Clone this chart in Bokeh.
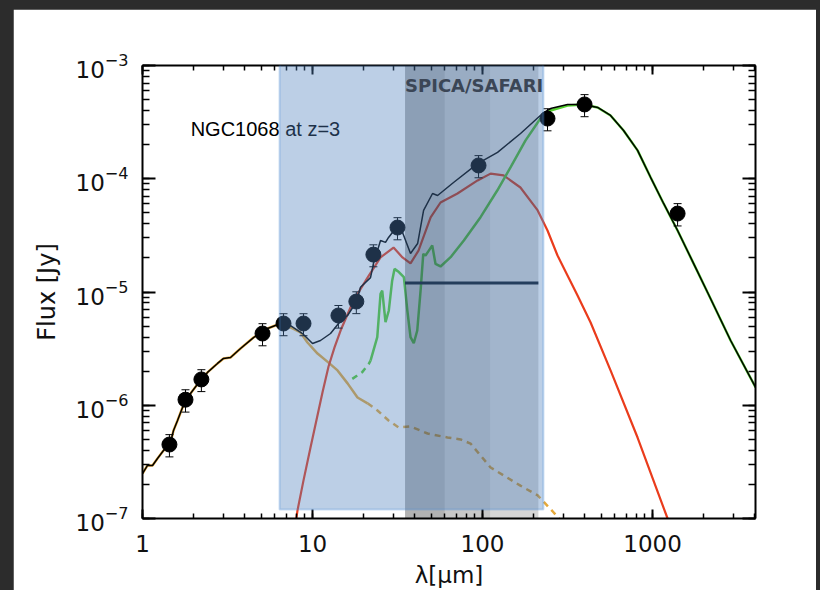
from bokeh.plotting import figure
from bokeh.models import (LogAxis, LogTicker, BoxAnnotation, Label, Whisker,
                          ColumnDataSource, TeeHead, PrintfTickFormatter, LogTickFormatter)
from bokeh.layouts import column
from bokeh.embed import file_html
from bokeh.resources import INLINE

# ---------------- data ----------------
# photometry: wavelength [um], flux [Jy], 1-sigma error [Jy]
phot_wave = [1.44, 1.79, 2.22, 5.08, 6.75, 8.85, 14.2, 18.1, 22.8, 31.6, 94.7, 241, 398, 1403]
phot_flux = [4.5e-7, 1.12e-6, 1.69e-6, 4.30e-6, 5.27e-6, 5.27e-6, 6.2e-6, 8.24e-6,
             2.14e-5, 3.71e-5, 1.31e-4, 3.40e-4, 4.53e-4, 4.93e-5]
phot_err = [1.0e-7, 2.5e-7, 3.7e-7, 9.5e-7, 1.16e-6, 1.16e-6, 1.4e-6, 1.8e-6,
            4.7e-6, 8.2e-6, 2.9e-5, 7.5e-5, 1.0e-4, 1.1e-5]

# total model (black)
total_wave = [1.00, 1.07, 1.145, 1.225, 1.329, 1.461, 1.522, 1.607, 1.719, 1.916, 2.193, 2.412,
              2.762, 2.996, 3.294, 3.772, 4.497, 5.437, 6.483, 7.42, 8.73, 10.0, 11.14, 12.76,
              14.22, 16.07, 18.15, 19.15, 21.93, 22.84, 25.12, 26.87, 28.0, 30.77, 33.84, 37.7,
              41.5, 45.0, 50.8, 54.4, 67.5, 93.5, 122.5, 167.3, 225.3, 251, 316, 393, 475, 566,
              675, 816, 973, 1161, 1403, 1741, 2107, 2877, 4036]
total_flux = [2.49e-7, 2.94e-7, 2.94e-7, 3.39e-7, 3.98e-7, 4.69e-7, 5.98e-7, 7.33e-7, 9.55e-7,
              1.27e-6, 1.66e-6, 1.95e-6, 2.34e-6, 2.59e-6, 2.64e-6, 3.17e-6, 3.96e-6, 4.76e-6,
              5.27e-6, 5.06e-6, 4.30e-6, 3.51e-6, 3.73e-6, 4.30e-6, 5.27e-6, 6.2e-6, 8.24e-6,
              1.10e-5, 1.34e-5, 1.79e-5, 2.85e-5, 2.74e-5, 3.03e-5, 3.64e-5, 3.35e-5, 2.19e-5,
              2.68e-5, 5.25e-5, 7.41e-5, 7.11e-5, 9.27e-5, 1.36e-4, 1.71e-4, 2.51e-4, 3.77e-4,
              4.17e-4, 4.53e-4, 4.53e-4, 4.26e-4, 3.62e-4, 2.67e-4, 1.78e-4, 1.03e-4, 6.05e-5,
              3.49e-5, 1.79e-5, 9.9e-6, 3.73e-6, 1.44e-6]

# stellar component (tan): solid part and extrapolated (dashed) part
star_wave = [1.00, 1.07, 1.145, 1.225, 1.329, 1.461, 1.522, 1.607, 1.719, 1.916, 2.193, 2.412,
             2.762, 2.996, 3.294, 3.772, 4.497, 5.437, 6.483, 7.42, 8.5, 9.34, 10.7, 12.42,
             14.03, 16.07, 18.39, 21.07]
star_flux = [2.49e-7, 2.94e-7, 2.94e-7, 3.39e-7, 3.98e-7, 4.69e-7, 5.98e-7, 7.33e-7, 9.55e-7,
             1.27e-6, 1.66e-6, 1.95e-6, 2.34e-6, 2.59e-6, 2.64e-6, 3.17e-6, 3.96e-6, 4.76e-6,
             5.27e-6, 4.86e-6, 4.39e-6, 3.58e-6, 2.86e-6, 2.38e-6, 2.03e-6, 1.56e-6, 1.17e-6,
             1.04e-6]
star_dash_wave = [21.07, 24.1, 28.0, 32.1, 37.7, 47.5, 62.2, 74.3, 85.0, 97.3, 111.5, 133,
                  167, 211, 262, 296]
star_dash_flux = [1.04e-6, 8.99e-7, 7.33e-7, 6.37e-7, 6.49e-7, 5.63e-7, 5.19e-7, 4.99e-7,
                  4.59e-7, 3.60e-7, 2.82e-7, 2.40e-7, 1.95e-7, 1.60e-7, 1.13e-7, 9.2e-8]

# AGN torus component (red)
agn_wave = [7.9, 8.16, 8.85, 9.73, 10.85, 11.45, 12.42, 13.47, 14.62, 17.42, 21.07, 25.12,
            29.95, 33.8, 37.7, 42.0, 49.5, 56.6, 71.2, 93.5, 111.5, 133, 167, 211, 241, 276,
            316, 362, 432, 566, 816, 1225, 1312]
agn_flux = [8.5e-8, 1.18e-7, 2.17e-7, 4.24e-7, 8.99e-7, 1.30e-6, 2.20e-6, 3.24e-6, 4.57e-6,
            8.41e-6, 1.34e-5, 2.02e-5, 2.47e-5, 2.02e-5, 1.79e-5, 2.32e-5, 4.55e-5, 6.17e-5,
            7.41e-5, 9.66e-5, 1.11e-4, 1.07e-4, 8.37e-5, 5.25e-5, 3.49e-5, 2.10e-5, 1.40e-5,
            9.31e-6, 5.38e-6, 2.03e-6, 5.19e-7, 1.0e-7, 7.5e-8]

# starburst component (green): dashed part and solid part
sb_dash_wave = [17.13, 18.32, 19.60, 21.43, 21.94]
sb_dash_flux = [1.71e-6, 1.83e-6, 1.96e-6, 2.32e-6, 2.48e-6]
sb_wave = [21.94, 24.03, 25.12, 25.70, 26.87, 28.1, 29.4, 30.35, 32.2, 34.45, 36.1, 37.7,
           39.4, 41.3, 43.2, 44.8, 46.2, 48.3, 50.6, 52.9, 56.6, 64.9, 77.6, 97.3, 122, 146,
           179, 219, 251, 316, 393, 475, 566, 675, 816, 973, 1161, 1403, 1741, 2107, 2877, 4036]
sb_flux = [2.48e-6, 3.99e-6, 9.64e-6, 1.03e-5, 5.41e-6, 6.87e-6, 1.26e-5, 1.60e-5, 1.50e-5,
           1.35e-5, 6.87e-6, 3.99e-6, 3.53e-6, 4.57e-6, 1.03e-5, 2.17e-5, 2.10e-5, 2.32e-5,
           2.57e-5, 1.77e-5, 1.68e-5, 2.03e-5, 2.85e-5, 4.58e-5, 7.87e-5, 1.26e-4, 2.18e-4,
           3.40e-4, 4.01e-4, 4.43e-4, 4.53e-4, 4.26e-4, 3.62e-4, 2.67e-4, 1.78e-4, 1.03e-4,
           6.05e-5, 3.49e-5, 1.79e-5, 9.9e-6, 3.73e-6, 1.44e-6]

# SPICA/SAFARI coverage and sensitivity
safari_band_edges = [35, 60, 111, 213]
safari_band_shade = [0.30, 0.22, 0.16]
safari_limit_wave = [35, 213]
safari_limit_flux = [1.2e-5, 1.2e-5]

# highlighted region (slide overlay)
highlight_wave = [6.4, 228]
highlight_flux = [1.2e-7, 3.12e-3]

# ---------------- figure ----------------
AXIS_FONT = "DejaVu Sans"

p = figure(width=803, height=581, x_axis_type="log", y_axis_type="log",
           x_range=(1, 4030), y_range=(1e-7, 1e-3),
           output_backend="svg", toolbar_location=None,
           min_border_left=129, min_border_right=61, min_border_top=56, min_border_bottom=72,
           background_fill_color="white", border_fill_color="white", outline_line_color=None)
p.margin = (9, 4, 0, 13)
p.xgrid.visible = False
p.ygrid.visible = False

xa = p.below[0]
ya = p.left[0]
xa.ticker = LogTicker(mantissas=[1], desired_num_ticks=6, num_minor_ticks=10)
ya.ticker = LogTicker(mantissas=[1], desired_num_ticks=6, num_minor_ticks=10)
xa.formatter = PrintfTickFormatter(format="%d")
ya.formatter = LogTickFormatter()

top_axis = LogAxis(ticker=LogTicker(mantissas=[1], desired_num_ticks=6, num_minor_ticks=10),
                   major_label_text_font_size="8px", major_label_text_alpha=0.0,
                   major_label_standoff=0)
right_axis = LogAxis(ticker=LogTicker(mantissas=[1], desired_num_ticks=6, num_minor_ticks=10),
                     major_label_text_font_size="8px", major_label_text_alpha=0.0,
                     major_label_standoff=0)
p.add_layout(top_axis, "above")
p.add_layout(right_axis, "right")

for ax in [xa, top_axis]:
    ax.major_tick_in = 9
    ax.minor_tick_in = 5
for ax in [ya, right_axis]:
    ax.major_tick_in = 13
    ax.minor_tick_in = 7
for ax in [xa, ya, top_axis, right_axis]:
    ax.major_tick_out = 0
    ax.minor_tick_out = 0
    ax.axis_line_width = 2
    ax.major_tick_line_width = 2
    ax.minor_tick_line_width = 1.5
    ax.axis_line_color = "black"
    ax.major_tick_line_color = "black"
    ax.minor_tick_line_color = "black"
    ax.major_label_text_font = AXIS_FONT
    ax.axis_label_text_font = AXIS_FONT
    ax.axis_label_text_font_style = "normal"
    ax.axis_label_text_color = "#111111"

for ax in [xa, ya]:
    ax.major_label_text_color = "#111111"
    ax.major_label_text_font_size = "23px"

xa.major_label_standoff = 16
ya.major_label_standoff = 14
xa.axis_label = "λ[μm]"
ya.axis_label = "Flux [Jy]"
xa.axis_label_text_font_size = "23px"
ya.axis_label_text_font_size = "24px"
xa.axis_label_standoff = 7
ya.axis_label_standoff = 12

# ---------------- model curves ----------------
p.line(star_wave, star_flux, line_color="#e6a93a", line_width=2.5)
p.line(star_dash_wave, star_dash_flux, line_color="#e6a93a", line_width=2.5, line_dash="6 5")
p.line(agn_wave, agn_flux, line_color="#ea3c1c", line_width=2.2)
p.line(sb_dash_wave, sb_dash_flux, line_color="#55cf30", line_width=2.5, line_dash="6 5")
p.line(sb_wave, sb_flux, line_color="#55cf30", line_width=2.5)
p.line(total_wave, total_flux, line_color="black", line_width=1.5)

# SAFARI sensitivity line
p.line(safari_limit_wave, safari_limit_flux, line_color="#0e1a2a", line_width=3)

# photometry with error bars
src = ColumnDataSource(dict(
    x=phot_wave, y=phot_flux,
    lo=[f - e for f, e in zip(phot_flux, phot_err)],
    hi=[f + e for f, e in zip(phot_flux, phot_err)],
))
wh = Whisker(base="x", lower="lo", upper="hi", source=src, level="glyph",
             line_color="black", line_width=1,
             lower_head=TeeHead(size=8, line_color="black", line_width=1),
             upper_head=TeeHead(size=8, line_color="black", line_width=1))
p.add_layout(wh)
p.scatter("x", "y", source=src, size=15, fill_color="black", line_color="black")

# ---------------- annotations ----------------
p.add_layout(Label(x=1.92, y=2.77e-4, text="NGC1068 at z=3", text_baseline="middle",
                   text_align="left", text_font="Liberation Sans", text_font_size="20px",
                   text_color="black"))

for left, right, shade in zip(safari_band_edges[:-1], safari_band_edges[1:], safari_band_shade):
    p.add_layout(BoxAnnotation(left=left, right=right, fill_color="black", fill_alpha=shade,
                               line_color=None))

p.add_layout(BoxAnnotation(left=highlight_wave[0], right=highlight_wave[1],
                           bottom=highlight_flux[0], top=highlight_flux[1],
                           fill_color="#4f81bd", fill_alpha=0.38,
                           line_color="#4a8bd6", line_width=2))

p.add_layout(Label(x=safari_band_edges[0], y=6.65e-4, text="SPICA/SAFARI",
                   text_baseline="middle", text_align="left", text_font="DejaVu Sans",
                   text_font_style="bold", text_font_size="18px", text_color="#3b4656"))

layout = column(p, width=820, height=590, styles={"background-color": "#2c2c2c"})

open("out.html", "w").write(file_html(layout, INLINE))
